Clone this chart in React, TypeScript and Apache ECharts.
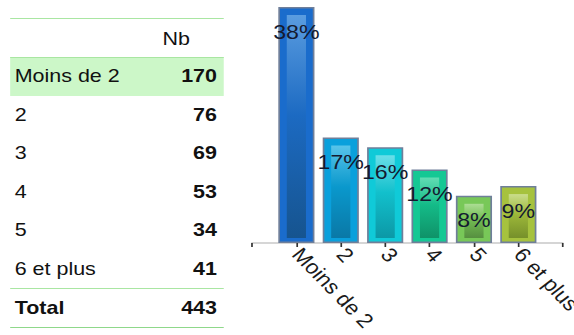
import React, { useEffect, useRef } from "react";
import * as echarts from "echarts";

const categories = ["Moins de 2", "2", "3", "4", "5", "6 et plus"];
const counts = [170, 76, 69, 53, 34, 41];
const totalLabel = "Total";
const headerLabel = "Nb";
const barColors = ["#1a6ccc", "#0aa0dc", "#10cad8", "#14c894", "#78c858", "#a6c23e"];
const innerTop = ["#5a9ce0", "#58c4ea", "#6adfe9", "#62ddb4", "#acdd94", "#cadd8c"];
const innerMid = ["#1c6ac2", "#0a98cc", "#12c0cc", "#14bb88", "#72bc52", "#9db83a"];
const innerBottom = ["#16548f", "#0a78a6", "#0c98a6", "#0f9268", "#568f40", "#76902a"];

const S = 1.13;
const W = 574 / S;
const FONT = "'Liberation Sans', Arial, sans-serif";

export default function App() {
  const ref = useRef<HTMLDivElement>(null);
  const total = counts.reduce((a, b) => a + b, 0);

  useEffect(() => {
    if (!ref.current) return;
    const chart = echarts.init(ref.current, null, { renderer: "svg" });
    const axisData = ["", ...categories, ""];
    const barData: any[] = ["-", ...counts, "-"];
    const innerData = counts.map((v, i) => [i + 1, v]);
    chart.setOption({
      animation: false,
      grid: { left: 23, right: 10, top: 7, bottom: 92, containLabel: false, outerBoundsMode: "none" },
      xAxis: {
        type: "category",
        data: axisData,
        boundaryGap: false,
        axisLine: { show: true, lineStyle: { color: "#c8c8c8", width: 1.5 } },
        axisTick: { show: true, length: 4, interval: 0, lineStyle: { color: "#333", width: 1.5 } },
        axisLabel: {
          interval: 0,
          rotate: -49,
          margin: 8,
          color: "#1a1a1a",
          fontSize: 20,
          fontFamily: FONT,
          hideOverlap: false,
        },
      },
      yAxis: { type: "value", min: 0, max: 170, show: false, splitLine: { show: false } },
      series: [
        {
          type: "bar",
          data: barData,
          barWidth: 32,
          z: 1,
          itemStyle: {
            color: (p: any) => barColors[(p.dataIndex - 1 + 6) % 6],
            borderColor: "#6f7f9a",
            borderWidth: 1.5,
          },
        },
        {
          type: "custom",
          z: 2,
          data: innerData,
          renderItem: (params: any, api: any) => {
            const i = params.dataIndex;
            const top = api.coord([api.value(0), api.value(1)]);
            const base = api.coord([api.value(0), 0]);
            const pct = Math.round((counts[i] / total) * 100) + "%";
            return {
              type: "group",
              children: [
                {
                  type: "rect",
                  shape: { x: top[0] - 8.5, y: top[1] + 8, width: 17, height: base[1] - top[1] - 13 },
                  style: {
                    fill: new echarts.graphic.LinearGradient(0, 0, 0, 1, [
                      { offset: 0, color: innerTop[i] },
                      { offset: 0.45, color: innerMid[i] },
                      { offset: 1, color: innerBottom[i] },
                    ]),
                  },
                },
                {
                  type: "text",
                  style: {
                    text: pct,
                    x: top[0],
                    y: top[1] + 14,
                    align: "center",
                    verticalAlign: "top",
                    fill: "#141a30",
                    font: `20.5px ${FONT}`,
                  },
                },
              ],
            };
          },
        },
      ],
    });
    return () => chart.dispose();
  }, []);

  const rowY = (i: number) => 76 + 38.6 * i;
  const labelStyle = (y: number, bold = false): React.CSSProperties => ({
    position: "absolute",
    left: 13,
    top: y - 11,
    fontSize: 19,
    lineHeight: "22px",
    fontFamily: FONT,
    fontWeight: bold ? 700 : 400,
    color: "#111",
    whiteSpace: "nowrap",
  });
  const valueStyle = (y: number, right: number, bold = true): React.CSSProperties => ({
    position: "absolute",
    left: 0,
    width: right,
    textAlign: "right",
    top: y - 11,
    fontSize: 19,
    lineHeight: "22px",
    fontFamily: FONT,
    fontWeight: bold ? 700 : 400,
    color: "#111",
    whiteSpace: "nowrap",
  });
  const line = (y: number, color: string): React.CSSProperties => ({
    position: "absolute",
    left: 9,
    width: 188.5,
    top: y - 1,
    height: 1.5,
    background: color,
  });

  return (
    <div style={{ position: "fixed", left: 0, top: 0, width: 574, height: 335, overflow: "hidden", background: "#fff" }}>
      <div style={{ position: "absolute", left: 0, top: 0, width: W, height: 335, transform: `scaleX(${S})`, transformOrigin: "0 0" }}>
        <div style={line(18.5, "#a9e6a2")} />
        <div style={valueStyle(39, 168, false)}>{headerLabel}</div>
        <div style={{ position: "absolute", left: 9, width: 188.5, top: 57, height: 39, background: "#ccf7c8" }} />
        <div style={line(57.5, "#a9e6a2")} />
        {categories.map((c, i) => (
          <React.Fragment key={c}>
            <div style={labelStyle(rowY(i))}>{c}</div>
            <div style={valueStyle(rowY(i), 192)}>{counts[i]}</div>
          </React.Fragment>
        ))}
        <div style={line(288.5, "#a9e6a2")} />
        <div style={labelStyle(307.5, true)}>{totalLabel}</div>
        <div style={valueStyle(307.5, 192)}>{total}</div>
        <div style={line(327.5, "#8fd88a")} />
        <div ref={ref} style={{ position: "absolute", left: 200, top: 0, width: W - 200, height: 335 }} />
      </div>
    </div>
  );
}
